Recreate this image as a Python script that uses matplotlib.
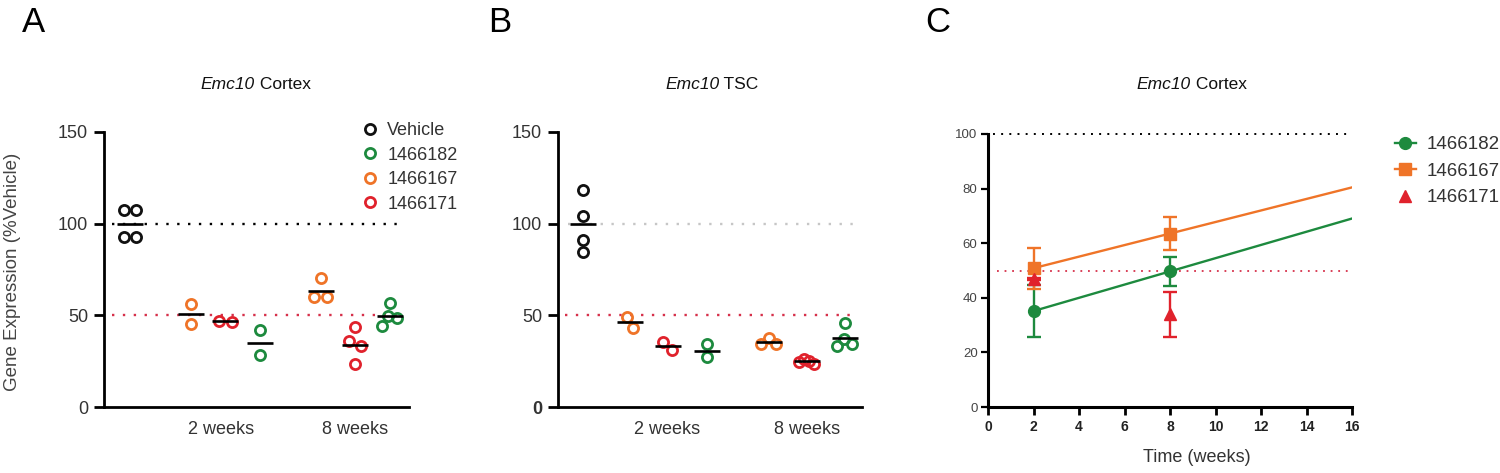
import numpy as np
import matplotlib
matplotlib.use("Agg")
import matplotlib.pyplot as plt
from matplotlib.lines import Line2D

# ---------------- data ----------------
compounds = ["Vehicle", "1466182", "1466167", "1466171"]
time_labels = ["2 weeks", "8 weeks"]
weeks = [2, 8]
vehicle_level = 100
half_level = 50

# Panel A : Emc10 Cortex (% vehicle)
cortex_vehicle = [107.4, 107.2, 92.8, 92.6]
cortex_1466167_2wk = [56.2, 45.5]
cortex_1466171_2wk = [47.0, 46.6]
cortex_1466182_2wk = [41.8, 28.5]
cortex_1466167_8wk = [70.4, 60.0, 60.2]
cortex_1466171_8wk = [43.5, 35.8, 33.1, 23.6]
cortex_1466182_8wk = [56.7, 49.5, 48.5, 44.0]

# Panel B : Emc10 TSC (% vehicle)
tsc_vehicle = [118.2, 104.4, 91.3, 84.4]
tsc_1466167_2wk = [49.1, 43.1]
tsc_1466171_2wk = [35.3, 30.9]
tsc_1466182_2wk = [34.4, 27.1]
tsc_1466167_8wk = [37.6, 34.5, 34.5]
tsc_1466171_8wk = [26.0, 25.3, 24.8, 23.6]
tsc_1466182_8wk = [45.8, 37.1, 34.5, 33.5]

# ---------------- style ----------------
plt.rcParams["font.family"] = ["Liberation Sans", "DejaVu Sans"]

col = {"Vehicle": "#111111", "1466182": "#1d8a3e", "1466167": "#ef7428", "1466171": "#e0222c"}
red_dot = "#d6304a"
txt = "#333333"

W, H = 1500, 473
fig = plt.figure(figsize=(W / 100, H / 100), dpi=100)
renderer = fig.canvas.get_renderer()


def fx(px):
    return px / W


def fy(py):
    return 1 - py / H


axA = fig.add_axes([fx(104), fy(407), fx(305), (407 - 132) / H])
axB = fig.add_axes([fx(558), fy(407), fx(304), (407 - 132) / H])
axC = fig.add_axes([fx(988), fy(407), fx(364), (407 - 134) / H])


def swarm_px(ax, x0, vals, sep=12.6, max_span=15.0):
    vals = np.asarray(vals, float)
    p0 = ax.transData.transform((x0, 0))
    p1 = ax.transData.transform((x0 + 1, 1))
    ypu = p1[1] - p0[1]
    ys = vals * ypu
    order = np.argsort(-vals, kind="stable")
    xs = np.zeros(len(vals))
    placed = []
    for i in order:
        ivs = []
        for j in placed:
            dy = abs(ys[i] - ys[j])
            if dy < sep:
                h = np.sqrt(sep ** 2 - dy ** 2)
                ivs.append((xs[j] - h, xs[j] + h))
        cands = [0.0] + [e for iv in ivs for e in iv]
        cands.sort(key=lambda c: (abs(c), -c))
        for c in cands:
            if all(not (lo + 1e-9 < c < hi - 1e-9) for lo, hi in ivs):
                xs[i] = c
                break
        placed.append(i)
    n = len(vals)
    parent = list(range(n))

    def find(a):
        while parent[a] != a:
            a = parent[a]
        return a

    for a in range(n):
        for b in range(a + 1, n):
            if abs(ys[a] - ys[b]) < sep - 1e-6:
                parent[find(a)] = find(b)
    clusters = {}
    for a in range(n):
        clusters.setdefault(find(a), []).append(a)
    for members in clusters.values():
        m = np.array(members)
        lo, hi = xs[m].min(), xs[m].max()
        xs[m] -= (lo + hi) / 2
        span = hi - lo
        if span > max_span:
            xs[m] *= max_span / span
    xpu = p1[0] - p0[0]
    return xs / xpu


def scatter_panel(ax, groups, positions, xlim, ref100_color, xmin100, xmin50, xmax, tick_pos):
    ax.set_xlim(*xlim)
    ax.set_ylim(0, 150)
    for (vals, c), pos in zip(groups, positions):
        off = swarm_px(ax, pos, vals)
        ax.plot(pos + off, vals, ls="none", marker="o", ms=7.3, mfc="none", mec=c,
                mew=2.0, clip_on=False, zorder=3)
        ax.plot([pos], [np.mean(vals)], ls="none", marker="_", ms=19, mew=1.9,
                color="black", zorder=4)
    ax.axhline(vehicle_level, xmin=xmin100, xmax=xmax, color=ref100_color, lw=1.7,
               ls=(0, (1, 3.6)), zorder=2)
    ax.axhline(half_level, xmin=xmin50, xmax=xmax, color=red_dot, lw=1.7,
               ls=(0, (1, 3.6)), zorder=2)
    for s in ["top", "right"]:
        ax.spines[s].set_visible(False)
    for s in ["left", "bottom"]:
        ax.spines[s].set_linewidth(2.0)
    ax.set_yticks([0, 50, 100, 150])
    ax.set_yticklabels(["0", "50", "100", "150"])
    ax.tick_params(axis="y", length=7.5, width=2.0, labelsize=13, colors="black",
                   labelcolor=txt, pad=4)
    ax.set_xticks(tick_pos)
    ax.set_xticklabels(time_labels)
    ax.tick_params(axis="x", length=0, labelsize=13, labelcolor=txt, pad=10)


# Panel A
groupsA = [
    (cortex_vehicle, col["Vehicle"]),
    (cortex_1466167_2wk, col["1466167"]),
    (cortex_1466171_2wk, col["1466171"]),
    (cortex_1466182_2wk, col["1466182"]),
    (cortex_1466167_8wk, col["1466167"]),
    (cortex_1466171_8wk, col["1466171"]),
    (cortex_1466182_8wk, col["1466182"]),
]
posA = [0, 1.75, 2.75, 3.75, 5.5, 6.5, 7.5]
scatter_panel(axA, groupsA, posA, (-0.75, 8.05), "black", 0.025, 0.025, 0.987,
              [posA[2] - 0.12, posA[5]])

legA = axA.legend(
    handles=[Line2D([], [], ls="none", marker="o", ms=7.3, mfc="none", mec=col[k], mew=2.0)
             for k in compounds],
    labels=compounds, loc="upper left", bbox_to_anchor=(fx(361), fy(122)),
    bbox_transform=fig.transFigure, frameon=False, fontsize=13, handlelength=1.0,
    handletextpad=0.45, labelspacing=0.42, borderpad=0, borderaxespad=0)
for t in legA.get_texts():
    t.set_color(txt)

# Panel B
groupsB = [
    (tsc_vehicle, col["Vehicle"]),
    (tsc_1466167_2wk, col["1466167"]),
    (tsc_1466171_2wk, col["1466171"]),
    (tsc_1466182_2wk, col["1466182"]),
    (tsc_1466167_8wk, col["1466167"]),
    (tsc_1466171_8wk, col["1466171"]),
    (tsc_1466182_8wk, col["1466182"]),
]
posB = [0, 1.22, 2.2, 3.22, 4.85, 5.84, 6.83]
scatter_panel(axB, groupsB, posB, (-0.66, 7.28), "#c6c6c6", 0.034, 0.023, 0.983,
              [posB[2], posB[5]])
axB.get_yticklabels()[0].set_fontweight("bold")

# Panel C : mean +/- SD of panel A over time
axC.set_xlim(0, 16)
axC.set_ylim(0, 100)
seriesC = [
    ("1466182", [cortex_1466182_2wk, cortex_1466182_8wk], "o", 8.5, True),
    ("1466167", [cortex_1466167_2wk, cortex_1466167_8wk], "s", 8.0, True),
    ("1466171", [cortex_1466171_2wk, cortex_1466171_8wk], "^", 8.5, False),
]
handlesC = []
for name, grp, mk, ms, fit in seriesC:
    c = col[name]
    means = np.array([np.mean(g) for g in grp])
    sds = np.array([np.std(g, ddof=1) for g in grp])
    if fit:
        k, b = np.polyfit(weeks, means, 1)
        xx = np.array([weeks[0], 16])
        axC.plot(xx, k * xx + b, color=c, lw=1.7, zorder=2)
    axC.errorbar(weeks, means, yerr=sds, fmt="none", ecolor=c, elinewidth=1.7,
                 capsize=5, capthick=1.7, zorder=3)
    axC.plot(weeks, means, ls="none", marker=mk, ms=ms, color=c, zorder=4)
    handlesC.append(Line2D([], [], color=c, lw=1.7 if fit else 0, marker=mk, ms=ms))

axC.axhline(vehicle_level, xmin=0.014, xmax=0.995, color="black", lw=1.4,
            ls=(0, (1, 3.2)), clip_on=False, zorder=1)
axC.axhline(half_level, xmin=0.025, xmax=0.995, color=red_dot, lw=1.3,
            ls=(0, (1, 3.2)), zorder=1)
for s in ["top", "right"]:
    axC.spines[s].set_visible(False)
for s in ["left", "bottom"]:
    axC.spines[s].set_linewidth(2.2)
axC.set_xticks(np.arange(0, 17, 2))
axC.set_yticks(np.arange(0, 101, 20))
axC.tick_params(axis="x", length=5.5, width=2.0, labelsize=10, pad=4, labelcolor="#222222")
for t in axC.get_xticklabels():
    t.set_fontweight("bold")
axC.tick_params(axis="y", length=5, width=1.6, labelsize=9.5, pad=2.5, labelcolor="#444444")
axC.text(0.574, -0.185, "Time (weeks)", transform=axC.transAxes, ha="center",
         va="center", fontsize=13, color=txt)

legC = axC.legend(handles=handlesC, labels=[s[0] for s in seriesC], loc="upper left",
                  bbox_to_anchor=(fx(1395), fy(136)), bbox_transform=fig.transFigure,
                  frameon=False, fontsize=13.5, handlelength=1.1, handletextpad=0.6,
                  labelspacing=0.5, borderpad=0, borderaxespad=0)
for t in legC.get_texts():
    t.set_color(txt)


# titles: italic gene name + plain tissue name
def mixed_title(cx, baseline, italic_part, plain_part, size=12.5):
    t1 = fig.text(0, 0, italic_part, style="italic", fontsize=size, color="#111111",
                  ha="left", va="baseline")
    t2 = fig.text(0, 0, " " + plain_part, fontsize=size, color="#111111",
                  ha="left", va="baseline")
    w1 = t1.get_window_extent(renderer).width
    w2 = t2.get_window_extent(renderer).width
    left = cx - (w1 + w2) / 2
    t1.set_position((fx(left), fy(baseline)))
    t2.set_position((fx(left + w1), fy(baseline)))


mixed_title(256, 89, "Emc10", "Cortex")
mixed_title(712, 89, "Emc10", "TSC")
mixed_title(1192, 89, "Emc10", "Cortex")

fig.text(fx(13), fy(272), "Gene Expression (%Vehicle)", rotation=90, ha="center",
         va="center", fontsize=13.5, color="#444444")

for x, letter in [(22, "A"), (488, "B"), (925, "C")]:
    fig.text(fx(x), fy(6), letter, ha="left", va="top", fontsize=25, color="black")

fig.savefig("out.png", dpi=100)
